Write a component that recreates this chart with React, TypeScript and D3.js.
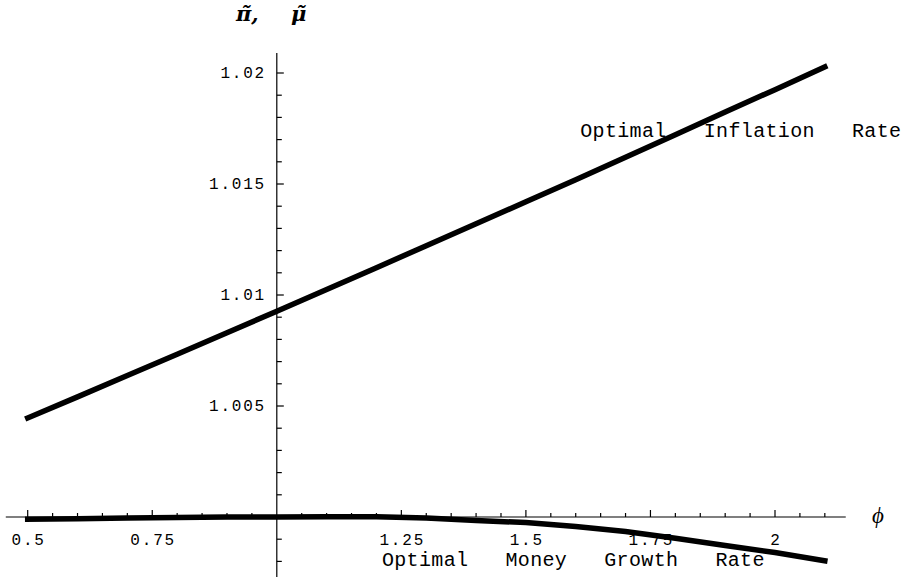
import React from "react";
import * as d3 from "d3";

// phi grid
const phi = [0.5, 0.6, 0.7, 0.8, 0.9, 1.0, 1.1, 1.2, 1.3, 1.4, 1.5, 1.6, 1.7, 1.8, 1.9, 2.0, 2.1];
// Optimal inflation rate (pi tilde)
const inflation = [1.00446, 1.00541, 1.00637, 1.00733, 1.0083, 1.00927, 1.01025, 1.01123, 1.01222, 1.01321, 1.0142, 1.01519, 1.0162, 1.01722, 1.01824, 1.01925, 1.02027];
// Optimal money growth rate (mu tilde)
const moneyGrowth = [0.9999, 0.99992, 0.99995, 0.99998, 1.0, 1.0, 1.00001, 1.00001, 0.99995, 0.99984, 0.99975, 0.99957, 0.99935, 0.99904, 0.99872, 0.9984, 0.99803];

const xMajorTicks = [0.5, 0.75, 1.25, 1.5, 1.75, 2];
const xTickLabels = ["0.5", "0.75", "1.25", "1.5", "1.75", "2"];
const yMajorTicks = [1.005, 1.01, 1.015, 1.02];
const yTickLabels = ["1.005", "1.01", "1.015", "1.02"];
const xAxisExtent = [0.456, 2.142];
const yAxisExtent = [0.9972, 1.0209];

const inflationLabel = { text: "Optimal   Inflation   Rate", x: 1.609, y: 1.01712 };
const moneyLabel = { text: "Optimal   Money   Growth   Rate", x: 1.211, y: 0.99779 };

export default function App() {
  const W = 909, H = 577;
  const x = d3.scaleLinear().domain([0.5, 2.0]).range([27.7, 775]);
  const y = d3.scaleLinear().domain([1.0, 1.02]).range([517, 73]);

  const line = d3
    .line<number>()
    .x((_, i) => x(phi[i]))
    .y((d) => y(d));

  const xMinor = d3.range(10, 43).map((i) => i * 0.05).filter((v) => Math.abs(v - 1) > 1e-6);
  const yMinor = d3.range(998, 1021).map((i) => i / 1000).filter((v) => Math.abs(v - 1) > 1e-9);
  const isMajorX = (v: number) => xMajorTicks.some((m) => Math.abs(m - v) < 1e-6);
  const isMajorY = (v: number) => yMajorTicks.some((m) => Math.abs(m - v) < 1e-9);

  const x0 = x(1.0);
  const y0 = y(1.0);
  const tickFont = { fontFamily: "'Liberation Mono', monospace", fontSize: 16, letterSpacing: 1.8 };
  const labelFont = { fontFamily: "'Liberation Mono', monospace", fontSize: 20, letterSpacing: 0.35 };
  const titleFont = { fontFamily: "'DejaVu Serif', serif", fontStyle: "italic", fontWeight: "bold", fontSize: 21 } as const;

  return (
    <svg width={W} height={H} style={{ position: "absolute", left: 0, top: 0, background: "#fff" }}>
      <rect width={W} height={H} fill="#fff" />
      {/* x axis */}
      <line x1={x(xAxisExtent[0])} x2={x(xAxisExtent[1])} y1={y0} y2={y0} stroke="#000" strokeWidth={1.2} />
      {xMinor.map((v, i) => (
        <line key={"xt" + i} x1={x(v)} x2={x(v)} y1={y0} y2={y0 - (isMajorX(v) ? 7 : 4)} stroke="#000" strokeWidth={1.2} />
      ))}
      {xMajorTicks.map((v, i) => (
        <text key={"xl" + i} x={x(v) + 0.9} y={545} textAnchor="middle" {...tickFont} fill="#000">
          {xTickLabels[i]}
        </text>
      ))}
      {/* y axis */}
      <line x1={x0} x2={x0} y1={y(yAxisExtent[1])} y2={y(yAxisExtent[0])} stroke="#000" strokeWidth={1.2} />
      {yMinor.map((v, i) => (
        <line key={"yt" + i} x1={x0} x2={x0 + (isMajorY(v) ? 7 : 5)} y1={y(v)} y2={y(v)} stroke="#000" strokeWidth={1.2} />
      ))}
      {yMajorTicks.map((v, i) => (
        <text key={"yl" + i} x={266} y={y(v) + 5} textAnchor="end" {...tickFont} fill="#000">
          {yTickLabels[i]}
        </text>
      ))}
      {/* annotations */}
      <text x={x(inflationLabel.x)} y={y(inflationLabel.y)} {...labelFont} fill="#000" style={{ whiteSpace: "pre" }}>
        {inflationLabel.text}
      </text>
      <text x={x(moneyLabel.x)} y={y(moneyLabel.y)} {...labelFont} fill="#000" style={{ whiteSpace: "pre" }}>
        {moneyLabel.text}
      </text>
      {/* curves */}
      <path d={line(inflation) || ""} fill="none" stroke="#000" strokeWidth={5.5} strokeLinecap="square" />
      <path d={line(moneyGrowth) || ""} fill="none" stroke="#000" strokeWidth={5.5} strokeLinecap="square" />
      {/* axis titles */}
      <text x={236} y={21} {...titleFont} fill="#000">
        {"π\u0303,"}
      </text>
      <text x={291} y={21} {...titleFont} fill="#000">
        {"μ\u0303"}
      </text>
      <text x={878} y={523} textAnchor="middle" fontFamily="'Liberation Serif', serif" fontStyle="italic" fontSize={23} fill="#000">
        {"ϕ"}
      </text>
    </svg>
  );
}
